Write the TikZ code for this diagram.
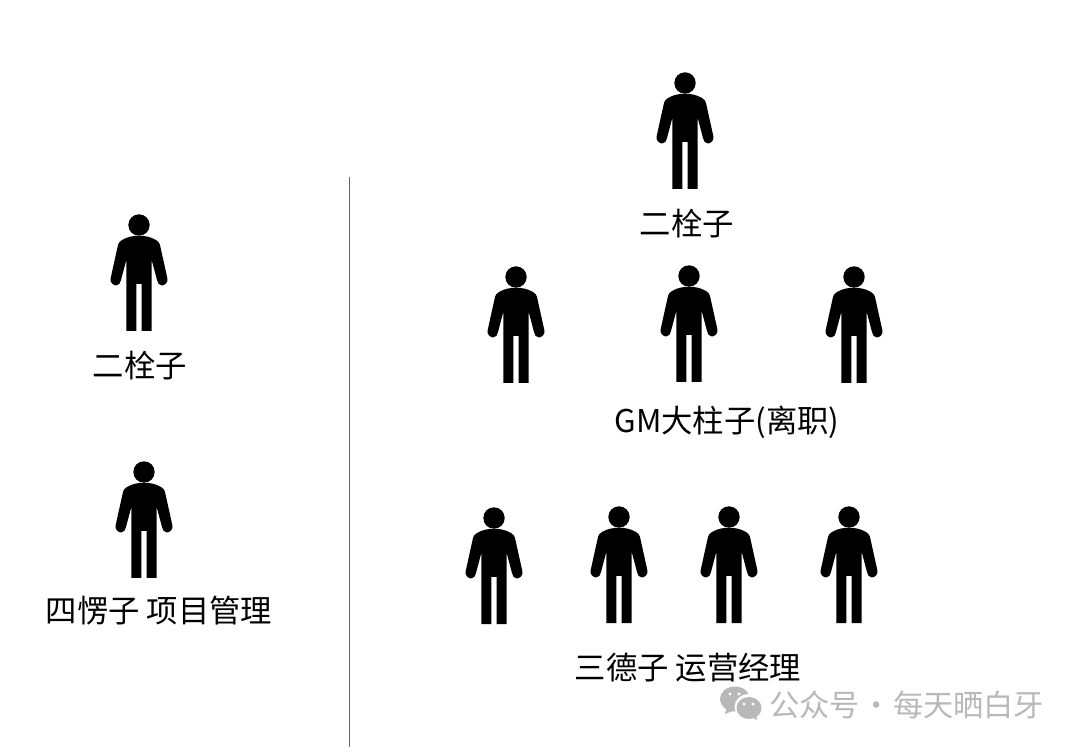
\documentclass[tikz,border=0pt]{standalone}
\usepackage{fontspec}
\setmainfont{Noto Sans CJK SC}
\usepackage{xcolor}
\usetikzlibrary{positioning}
\definecolor{markgray}{RGB}{184,184,184}

\begin{document}
\begin{tikzpicture}[
    x=0.025cm, y=-0.025cm,
    personname/.style={inner sep=0pt, font=\fontsize{22.3}{26}\selectfont},
    marktext/.style={inner sep=0pt, text=markgray, font=\fontsize{21.5}{25}\selectfont},
    divider/.style={draw=black!60, line width=0.5pt},
    person/.pic={
        \fill[black] (0,0) circle (10.7);
        \fill[black] (0,10.7) .. controls (-6,10.7) and (-12,12) .. (-17,15)
            .. controls (-19.5,16.5) and (-20.5,18) .. (-21,20)
            -- (-28.3,53) .. controls (-29.5,58) and (-25,60.5) .. (-23,60.5)
            .. controls (-20,60.5) and (-18.5,58) .. (-18,55)
            -- (-12.7,35) -- (-12.7,106) -- (-2.7,106) -- (-2.7,59) -- (2.7,59)
            -- (2.7,106) -- (12.7,106) -- (12.7,35) -- (18,55)
            .. controls (18.5,58) and (20,60.5) .. (23,60.5)
            .. controls (25,60.5) and (29.5,58) .. (28.3,53)
            -- (21,20) .. controls (20.5,18) and (19.5,16.5) .. (17,15)
            .. controls (12,12) and (6,10.7) .. (0,10.7) -- cycle;
    }
]
\useasboundingbox (0,0) rectangle (1080,747);

% Left column
\pic (left1) at (139,225) {person};
\node[personname] (leftname1) at (140,366) {二栓子};
\pic (left2) at (144,472) {person};
\node[personname] (leftname2) at (159,611) {四愣子 项目管理};

% Divider
\draw[divider] (349,177) -- (349,747);

% Right column
\pic (top) at (685,83) {person};
\node[personname] (topname) at (687,224) {二栓子};

\pic (mid1) at (516,277) {person};
\pic (mid2) at (689,276) {person};
\pic (mid3) at (854,277) {person};
\node[personname] (midname) at (727,422) {GM大柱子(离职)};

\pic (low1) at (494,518) {person};
\pic (low2) at (619,517) {person};
\pic (low3) at (729,517) {person};
\pic (low4) at (849,517) {person};
\node[personname] (lowname) at (688,668) {三德子 运营经理};

% Watermark
\fill[markgray] (735,699) ellipse (15 and 12.5);
\fill[markgray] (727,707) -- (725,714) -- (735,710) -- cycle;
\fill[white] (749,707) ellipse (14.5 and 13);
\fill[markgray] (749,708) ellipse (12.5 and 11);
\fill[markgray] (751,717) -- (757,720) -- (756,714) -- cycle;
\fill[white] (730,694) circle (1.7) (739,694) circle (1.7) (744,704) circle (1.7) (753,704) circle (1.7);
\node[marktext, anchor=west] (watermark) at (769,705) {公众号\hspace{1pt}·\hspace{1pt}每天晒白牙};

\end{tikzpicture}
\end{document}
